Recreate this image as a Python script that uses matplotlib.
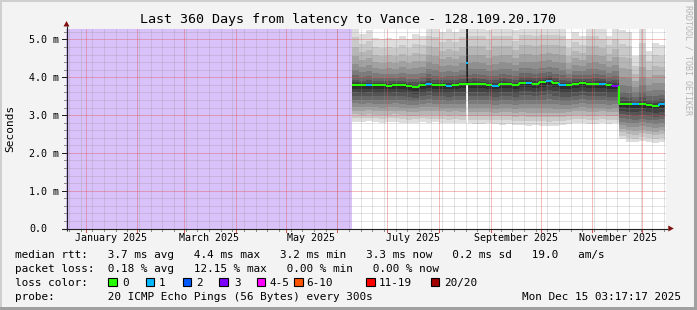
import matplotlib
matplotlib.use('Agg')
import matplotlib.pyplot as plt
import matplotlib.dates as mdates
from matplotlib.collections import LineCollection
from matplotlib.patches import Rectangle, Polygon
import numpy as np
import pandas as pd

# ---------------- data ----------------
title = "Last 360 Days from latency to Vance - 128.109.20.170"
period_start = pd.Timestamp('2024-12-20 03:17:17')
period_end = pd.Timestamp('2025-12-15 03:17:17')

sample_dates = pd.date_range('2025-06-10', periods=47, freq='4D')
sample_end = pd.Timestamp('2025-12-14 18:00')

median_ms = [3.80, 3.79, 3.79, 3.79, 3.79, 3.78, 3.79, 3.79, 3.77, 3.74,
             3.79, 3.83, 3.79, 3.79, 3.78, 3.80, 3.81, 3.81, 3.83, 3.82,
             3.80, 3.78, 3.83, 3.81, 3.79, 3.86, 3.86, 3.83, 3.87, 3.91,
             3.85, 3.79, 3.79, 3.83, 3.85, 3.81, 3.83, 3.83, 3.79, 3.78,
             3.30, 3.29, 3.28, 3.29, 3.27, 3.25, 3.28]
loss_pings = [0, 0, 1, 0, 0, 0, 0, 0, 0, 0,
              0, 1, 0, 0, 1, 0, 0, 0, 0, 0,
              0, 1, 0, 0, 0, 0, 1, 0, 0, 1,
              0, 1, 0, 0, 0, 0, 0, 1, 0, 3,
              0, 0, 1, 0, 0, 0, 1]
min_ms = [2.83, 2.82, 2.84, 2.82, 2.80, 2.82, 2.83, 2.80, 2.78, 2.80,
          2.82, 2.80, 2.81, 2.80, 2.78, 2.80, 2.78, 2.78, 2.77, 2.76,
          2.78, 2.76, 2.75, 2.77, 2.75, 2.74, 2.72, 2.74, 2.72, 2.70,
          2.72, 2.74, 2.76, 2.78, 2.78, 2.77, 2.76, 2.78, 2.76, 2.78,
          2.36, 2.30, 2.28, 2.32, 2.30, 2.27, 2.30]
max_ms = [5.35, 5.15, 5.25, 5.05, 5.00, 5.05, 5.00, 5.10, 5.00, 5.15,
          5.10, 5.40, 5.35, 5.20, 5.30, 5.20, 5.35, 5.40, 5.40, 5.40,
          5.25, 5.40, 5.40, 5.40, 5.25, 5.40, 5.40, 5.40, 5.40, 5.40,
          5.40, 5.40, 5.00, 5.20, 5.10, 5.40, 5.40, 5.30, 5.10, 5.30,
          5.25, 5.20, 4.55, 5.30, 4.70, 4.90, 4.85]

spike_start = pd.Timestamp('2025-08-17 00:00')
spike_end = pd.Timestamp('2025-08-18 06:00')
spike_median = 4.39
spike_loss = 1
spike_low = 3.80
spike_high = 5.40
spike_floor = 2.78

y_ticks = [0, 1, 2, 3, 4, 5]
y_labels = ['0.0', '1.0 m', '2.0 m', '3.0 m', '4.0 m', '5.0 m']
month_labels = ['January 2025', 'March 2025', 'May 2025', 'July 2025',
                'September 2025', 'November 2025']
month_label_dates = ['2025-01-16 05:00', '2025-03-16 05:00', '2025-05-16 05:00',
                     '2025-07-16 05:00', '2025-09-16 05:00', '2025-11-16 05:00']

loss_levels = ['0', '1', '2', '3', '4-5', '6-10', '11-19', '20/20']
loss_colors = ['#26ff00', '#00b8ff', '#0059ff', '#7e00ff', '#ff00ff',
               '#ff5500', '#ff0000', '#a10000']

row_median = "median rtt:   3.7 ms avg   4.4 ms max   3.2 ms min   3.3 ms now   0.2 ms sd   19.0   am/s"
row_loss = "packet loss:  0.18 % avg   12.15 % max   0.00 % min   0.00 % now"
row_probe = "probe:        20 ICMP Echo Pings (56 Bytes) every 300s"
timestamp = "Mon Dec 15 03:17:17 2025"

# ---------------- figure ----------------
W, H = 697, 310
fig = plt.figure(figsize=(W / 100, H / 100), dpi=100)
fig.patch.set_facecolor('#f3f3f3')
MONO = 'DejaVu Sans Mono'

X0, Y0, PW, PH = 66, 228.5, 600, 200
ax = fig.add_axes([X0 / W, (H - Y0) / H, PW / W, PH / H])
ax.set_facecolor('white')
t_start = mdates.date2num(period_start)
t_end = mdates.date2num(period_end)
ax.set_xlim(t_start, t_end)
ax.set_ylim(0, 5.29)
for s in ax.spines.values():
    s.set_visible(False)


def loss_color(n):
    if n <= 3:
        return loss_colors[n]
    if n <= 5:
        return loss_colors[4]
    if n <= 10:
        return loss_colors[5]
    if n <= 19:
        return loss_colors[6]
    return loss_colors[7]


# unknown (no data) area
ax.axvspan(t_start, mdates.date2num(sample_dates[0]), color='#d9c1fa', lw=0, zorder=1)

# smoke
t = mdates.date2num(list(sample_dates) + [sample_end])
med = np.array(median_ms)
lo = np.array(min_ms)
hi = np.array(max_ms)
nb = 10
for k in range(nb):
    frac = (nb - k) / nb
    low_k = med - (med - lo) * frac ** 1.0
    up_k = med + (hi - med) * frac ** 2.0
    g = int(round(221 - k * (221 - 45) / (nb - 1)))
    ax.fill_between(t, np.append(low_k, low_k[-1]), np.append(up_k, up_k[-1]),
                    step='post', color='#%02x%02x%02x' % (g, g, g), lw=0, zorder=2)

# spike column
ts0, ts1 = mdates.date2num(spike_start), mdates.date2num(spike_end)
ax.fill_between([ts0, ts1], [spike_low] * 2, [spike_high] * 2, color='#1e1e1e', lw=0, zorder=2.5)
ax.fill_between([ts0, ts1], [spike_floor] * 2, [spike_low] * 2, color='white', lw=0, zorder=2.5)

# grid (fine, light)
minor_c = (0.565, 0.565, 0.565, 0.26)
major_c = (0.878, 0.314, 0.314, 0.38)
gkw = dict(lw=0.72, snap=True)
sundays = mdates.date2num(pd.date_range(period_start.normalize(), period_end, freq='W-SUN'))
months = mdates.date2num(pd.date_range(period_start.normalize(), period_end, freq='MS'))
for d in sundays:
    if t_start < d < t_end:
        ax.axvline(d, color=minor_c, zorder=3, **gkw)
for yv in np.arange(0.2, 5.29, 0.2):
    if abs(yv - round(yv)) > 1e-6:
        ax.axhline(yv, color=minor_c, zorder=3, **gkw)
for d in months:
    if t_start < d < t_end:
        ax.axvline(d, color=major_c, zorder=3.1, **gkw)
for yv in y_ticks[1:]:
    ax.axhline(yv, color=major_c, zorder=3.1, **gkw)

# median line (colored by loss)
segs, cols = [], []
for i in range(len(med)):
    c = loss_color(loss_pings[i])
    if i > 0 and med[i] != med[i - 1]:
        segs.append([(t[i], med[i - 1]), (t[i], med[i])])
        cols.append(c)
    segs.append([(t[i], med[i]), (t[i + 1], med[i])])
    cols.append(c)
ax.add_collection(LineCollection(segs, colors=cols, linewidths=1.45, capstyle='butt', zorder=4))
ax.hlines(spike_median, ts0, ts1, colors=loss_color(spike_loss), lw=1.45, zorder=4.1)

# tick marks
xt = ax.get_xaxis_transform()
yt = ax.get_yaxis_transform()
for d in sundays:
    if t_start < d < t_end:
        ax.plot([d, d], [0, -2 / PH], transform=xt, color='#8c8c8c', lw=0.72, clip_on=False, zorder=5)
for d in months:
    if t_start < d < t_end:
        ax.plot([d, d], [0, -3 / PH], transform=xt, color='#e05050', lw=0.72, clip_on=False, zorder=5)
for yv in np.arange(0.2, 5.29, 0.2):
    ax.plot([-2 / PW, 0], [yv, yv], transform=yt, color='#8c8c8c', lw=0.72, clip_on=False, zorder=5)
for yv in y_ticks:
    ax.plot([-4 / PW, 0], [yv, yv], transform=yt, color='#202020', lw=0.72, clip_on=False, zorder=5)

# tick labels
ax.set_yticks(y_ticks)
ax.set_yticklabels(y_labels, fontfamily=MONO, fontsize=7.2, ha='left')
ax.tick_params(axis='y', length=0, pad=26.6)
ax.set_xticks(mdates.date2num(pd.to_datetime(month_label_dates)))
ax.set_xticklabels(month_labels, fontfamily=MONO, fontsize=7.2)
ax.tick_params(axis='x', length=0, pad=3.2)

# ---------------- overlay in pixel coords ----------------
ov = fig.add_axes([0, 0, 1, 1], zorder=10)
ov.set_xlim(0, W)
ov.set_ylim(H, 0)
ov.axis('off')
ov.patch.set_alpha(0)

# border
ov.add_patch(Rectangle((0, 0), W, 2, color='#cfcfcf', lw=0))
ov.add_patch(Rectangle((0, 0), 2, H, color='#cfcfcf', lw=0))
ov.add_patch(Rectangle((0, H - 3), W, 3, color='#a0a0a0', lw=0))
ov.add_patch(Rectangle((W - 3, 0), 3, H, color='#a0a0a0', lw=0))

# axes lines and arrows
ov.plot([X0 + 0.5, X0 + 0.5], [Y0 + 2, 26], color='#202020', lw=0.8, solid_capstyle='butt')
ov.plot([X0 - 4, X0 + PW + 2], [Y0, Y0], color='#202020', lw=0.8, solid_capstyle='butt')
ov.add_patch(Polygon([(X0 - 2.5, 26.5), (X0 + 3.5, 26.5), (X0 + 0.5, 21.0)], closed=True, color='#801010', lw=0))
ov.add_patch(Polygon([(668.3, Y0 - 3), (668.3, Y0 + 3), (673.8, Y0)], closed=True, color='#801010', lw=0))

# texts
ov.text(348, 23.5, title, fontfamily=MONO, fontsize=9.6, ha='center', va='baseline')
ov.text(10.5, 128, 'Seconds', fontfamily=MONO, fontsize=8, rotation=90, ha='center', va='center')
ov.text(688, 5, 'RRDTOOL / TOBI OETIKER', fontfamily=MONO, fontsize=6, rotation=270,
        ha='center', va='top', color='#b5b5b5')

ov.text(15, 257.7, row_median, fontfamily=MONO, fontsize=7.9, va='baseline')
ov.text(15, 271.7, row_loss, fontfamily=MONO, fontsize=7.9, va='baseline')
ov.text(15, 285.7, 'loss color:', fontfamily=MONO, fontsize=7.9, va='baseline')
ov.text(15, 299.7, row_probe, fontfamily=MONO, fontsize=7.9, va='baseline')
ov.text(681, 299.7, timestamp, fontfamily=MONO, fontsize=7.9, va='baseline', ha='right')

sw_x = [108.3, 145.7, 182.7, 219.3, 256.7, 294.0, 366.0, 430.7]
lab_x = [122.0, 159.0, 196.0, 234.0, 269.0, 306.0, 379.0, 444.0]
for lvl, col, sx, lx in zip(loss_levels, loss_colors, sw_x, lab_x):
    ov.add_patch(Rectangle((sx, 277.5), 8.5, 8.8, facecolor=col, edgecolor='black', lw=0.8))
    ov.text(lx, 285.7, lvl, fontfamily=MONO, fontsize=7.9, va='baseline')

fig.savefig('out.png', dpi=100, facecolor=fig.get_facecolor())
